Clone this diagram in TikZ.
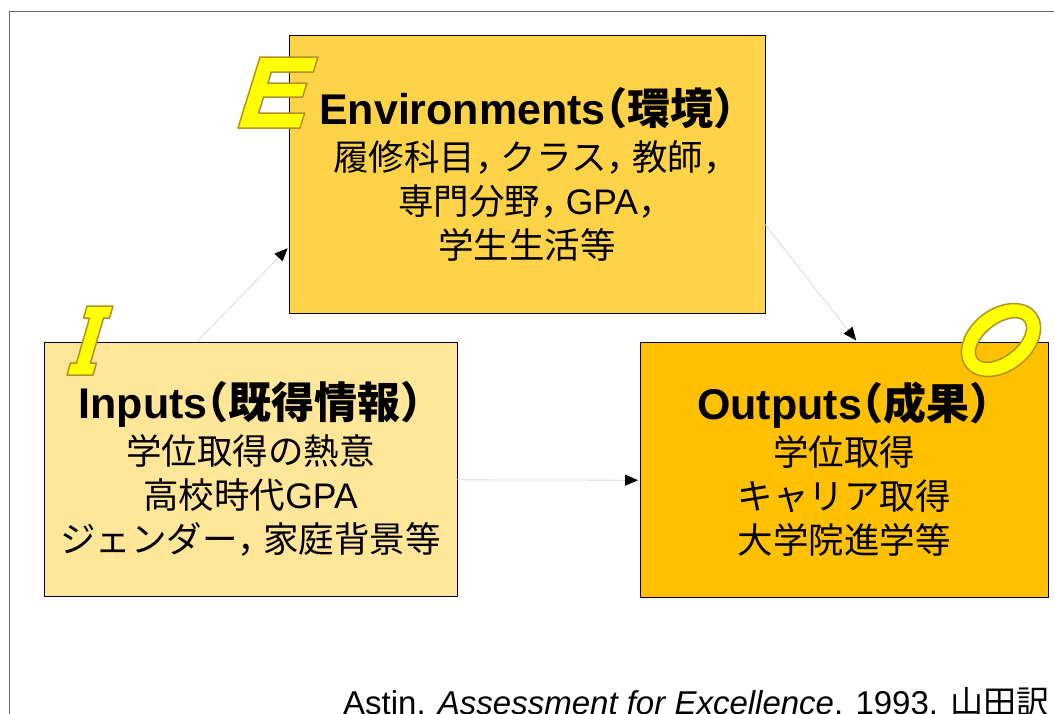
\documentclass[tikz,border=0pt]{standalone}
\usepackage{fontspec}
\setmainfont{Liberation Sans}
\newfontfamily\jp{Noto Sans CJK JP}
\newfontfamily\jph[CharacterWidth=AlternateHalf]{Noto Sans CJK JP}
\usetikzlibrary{arrows.meta,shadows}
\definecolor{envfill}{HTML}{FFD347}
\definecolor{inpfill}{HTML}{FFE699}
\definecolor{outfill}{HTML}{FFC000}
\definecolor{ltrfill}{HTML}{FFFF00}
\definecolor{ltrline}{HTML}{B0902A}
\newcommand\ttl{\fontsize{43}{50}\selectfont\bfseries\rmfamily}
\newcommand\jlp{{\jph （}}
\newcommand\jrp{{\jph ）}}
\newcommand\jcm{{\jph ，}}
\begin{document}
\begin{tikzpicture}[x=1pt, y=-1pt, line join=round,
	box/.style={draw=black, line width=0.9pt, outer sep=0pt, align=center,
		font=\fontsize{35.5}{44}\selectfont\jp,
		drop shadow={shadow xshift=1.2pt, shadow yshift=-1.2pt, fill=gray!80, opacity=1}},
	arr/.style={draw=gray!30, line width=0.8pt, shorten >=2pt,
		-{Triangle[length=13pt, width=11pt, color=black]}},
	ltr/.style={fill=ltrfill, draw=ltrline, line width=1.5pt}]
	\useasboundingbox (0,0) rectangle (1054,713);
	\draw[gray!80!black, line width=1pt] (9.5,11.5) rectangle (1100,800);
	% the three boxes
	\node[box, fill=envfill, minimum width=476pt, minimum height=278pt] (env) at (527,174)
		{{\ttl Environments\jlp{\jp 環境}\jrp}\\[2pt]
		履修科目\jcm\ クラス\jcm\ 教師\jcm\\
		専門分野\jcm\ {\rmfamily GPA}\jcm\\
		学生生活等};
	\node[box, fill=inpfill, minimum width=413pt, minimum height=254pt] (inp) at (250.5,469)
		{{\ttl Inputs\jlp{\jp 既得情報}\jrp}\\[2pt]
		学位取得の熱意\\
		高校時代{\rmfamily GPA}\\
		ジェンダー\jcm\ 家庭背景等};
	\node[box, fill=outfill, minimum width=408pt, minimum height=255pt] (out) at (844,469.5)
		{{\ttl Outputs\jlp{\jp 成果}\jrp}\\[2pt]
		学位取得\\
		キャリア取得\\
		大学院進学等};
	% connectors
	\draw[arr] (inp.113.6) -- (env.197);
	\draw[arr] (env.-12.3) -- (out.84.6);
	\draw[arr] (inp.-3.3) -- (out.183.2);
	% the letters E, I, O
	\begin{scope}[shift={(238,128)}, x=1pt, y=1pt, xslant=0.31]
		\draw[ltr] (0,0)--(62,0)--(62,15)--(16,15)--(16,31)--(55,31)--(55,45)--(16,45)
			--(16,56)--(58,56)--(58,71)--(0,71)--cycle;
	\end{scope}
	\begin{scope}[shift={(67,375)}, x=1pt, y=1pt, xslant=0.29]
		\draw[ltr] (0,0)--(26,0)--(26,12)--(20,12)--(20,57)--(26,57)--(26,69)--(0,69)
			--(0,57)--(6,57)--(6,12)--(0,12)--cycle;
	\end{scope}
	\begin{scope}[shift={(1001,340)}, x=1pt, y=1pt, rotate=38]
		\draw[ltr, even odd rule] (0,0) ellipse [x radius=44, y radius=31]
			(0,0) ellipse [x radius=30, y radius=16];
	\end{scope}
	\node[anchor=base west, inner sep=0pt, font=\fontsize{33}{36}\selectfont] (cite) at (343,714)
		{Astin. \textit{Assessment for Excellence}. 1993. {\jp 山田訳}};
\end{tikzpicture}
\end{document}
